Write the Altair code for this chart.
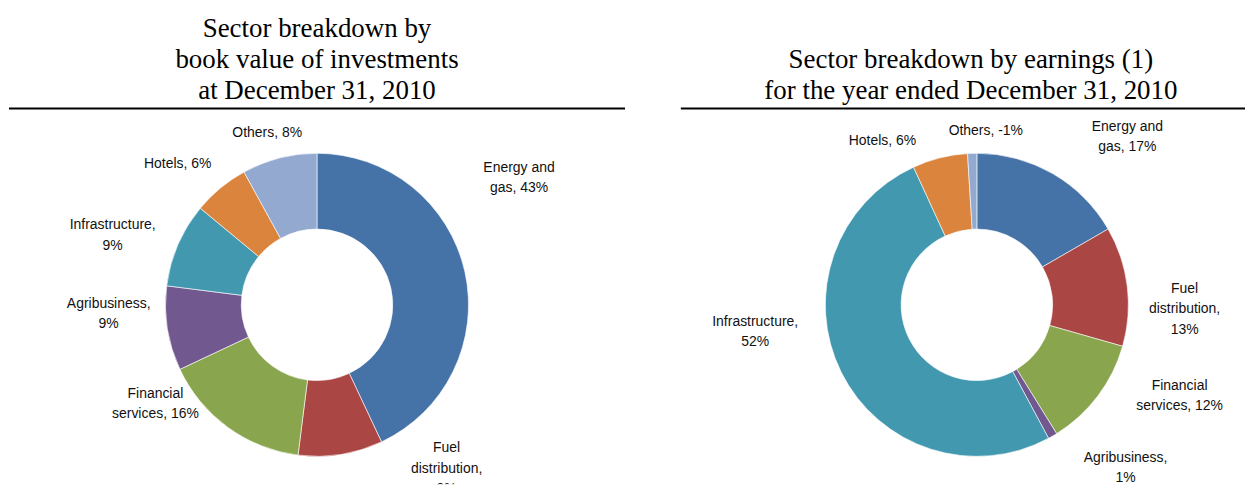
import altair as alt
import pandas as pd

sectors = ["Energy and gas", "Fuel distribution", "Financial services",
           "Agribusiness", "Infrastructure", "Hotels", "Others"]
colors = ["#4572A7", "#AA4643", "#89A54E", "#71588F", "#4198AF", "#DB843D", "#93A9CF"]

book_values = [43, 9, 16, 9, 9, 6, 8]
book_labels = ["Energy and\ngas, 43%", "Fuel\ndistribution,\n9%", "Financial\nservices, 16%",
               "Agribusiness,\n9%", "Infrastructure,\n9%", "Hotels, 6%", "Others, 8%"]

earn_values = [17, 13, 12, 1, 52, 6, -1]
earn_labels = ["Energy and\ngas, 17%", "Fuel\ndistribution,\n13%", "Financial\nservices, 12%",
               "Agribusiness,\n1%", "Infrastructure,\n52%", "Hotels, 6%", "Others, -1%"]

title_left = ["Sector breakdown by", "book value of investments", "at December 31, 2010"]
title_right = ["Sector breakdown by earnings (1)", "for the year ended December 31, 2010"]

# label placement (as in the source, labels were moved by hand):
# angular shift (degrees) from the slice's middle and distance from the centre (px)
book_label_shift = [-21.6, -33.1, 25.2, 9.3, -2.1, -5.0, -1.8]
book_label_radius = [245, 194, 185, 209, 220, 199, 179]
earn_label_shift = [10.2, 2.7, -15.3, -14.2, 22.1, -15.8, 4.7]
earn_label_radius = [234, 209, 219, 214, 223, 190, 175]

PLOT_H = 377
CY = 197


def donut(values, labels, shifts, radii, title, width, cx, title_dx):
    df = pd.DataFrame({"sector": sectors, "value": values, "label": labels,
                       "shift": shifts, "lr": radii,
                       "idx": list(range(len(sectors)))})
    src = alt.Chart(df).transform_calculate(size="abs(datum.value)")
    arcs = src.mark_arc(outerRadius=152, innerRadius=76, stroke="white", strokeWidth=0.6).encode(
        theta=alt.Theta("size:Q", stack=True),
        order=alt.Order("idx:Q"),
        color=alt.Color("sector:N", scale=alt.Scale(domain=sectors, range=colors), legend=None),
        x=alt.value(cx), y=alt.value(CY),
    )
    text = src.transform_window(
        cum="sum(size)", sort=[alt.SortField("idx")]
    ).transform_joinaggregate(
        total="sum(size)"
    ).transform_calculate(
        la="(datum.cum - datum.size / 2) / datum.total * 2 * PI + datum.shift * PI / 180"
    ).mark_text(font="Liberation Sans", fontSize=14, lineBreak="\n",
                lineHeight=20.5, align="center", baseline="middle", color="#111111",
                clip=True).encode(
        theta=alt.Theta("la:Q", scale=None, stack=False),
        radius=alt.Radius("lr:Q", scale=None),
        text="label:N", x=alt.value(cx), y=alt.value(CY),
    )
    rule = alt.Chart(pd.DataFrame({"r": [0]})).mark_rule(color="black", strokeWidth=2).encode(
        x=alt.value(0), x2=alt.value(width), y=alt.value(0),
    )
    return alt.layer(arcs, text, rule).properties(
        width=width, height=PLOT_H,
        title=alt.TitleParams(text=title, font="Liberation Serif", fontSize=27,
                              fontWeight="normal", lineHeight=31.5, anchor="middle",
                              offset=2, dx=title_dx, color="black"),
    ).resolve_scale(theta="independent")


left = donut(book_values, book_labels, book_label_shift, book_label_radius,
             title_left, 618, 309, 0)
right = donut(earn_values, earn_labels, earn_label_shift, earn_label_radius,
              title_right, 566, 297, 8)

chart = alt.hconcat(left, right, spacing=54).properties(
    padding={"left": 0, "right": 0, "top": 6, "bottom": 0}
).configure_view(stroke=None)

chart.save("out.html", embed_options={"renderer": "svg", "actions": False})
